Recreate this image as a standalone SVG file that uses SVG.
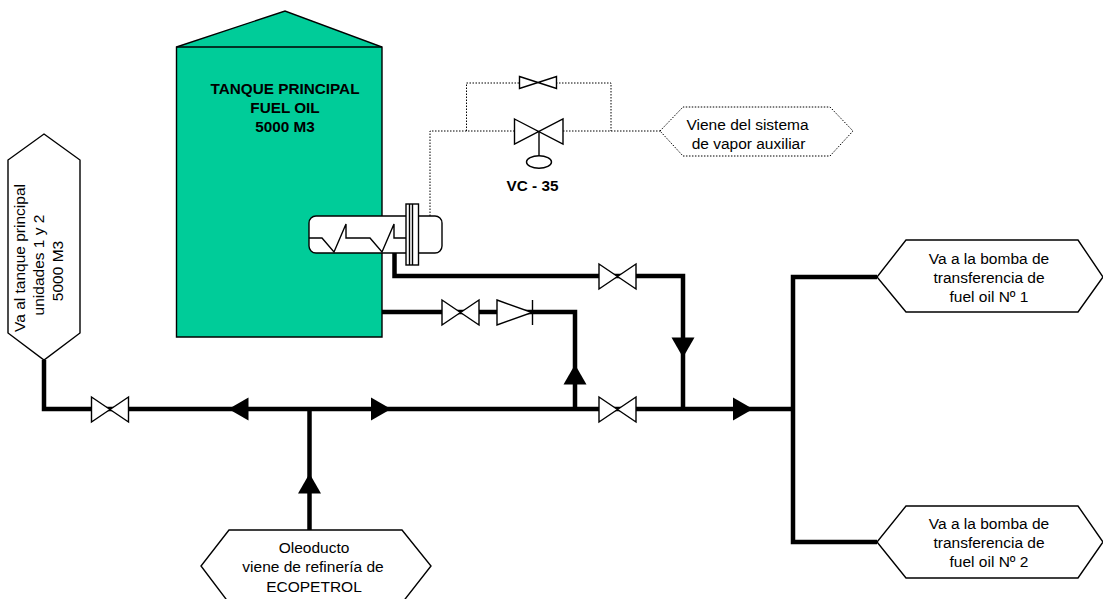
<svg xmlns="http://www.w3.org/2000/svg" width="1103" height="599" viewBox="0 0 1103 599">
<style>
.pipe{fill:none;stroke:#000;stroke-width:4.5;stroke-linejoin:miter}
.dot{fill:none;stroke:#000;stroke-width:1;stroke-dasharray:1.5 1.5}
.line{fill:#fff;stroke:#000;stroke-width:1.4}
.thin{fill:none;stroke:#000;stroke-width:1.4;stroke-linejoin:miter}
.arrow{fill:#000;stroke:none}
text{font-family:"Liberation Sans",Arial,sans-serif;font-size:15.5px;fill:#000;text-anchor:middle}
.bold{font-weight:bold;font-size:15.3px}
</style>
<defs>
<path id="valve" d="M-18.500 -12.500L18.500 12.500V-12.500L-18.500 12.500Z" class="line"/>
<path id="arrowR" d="M-10 -11.500L10 0L-10 11.500Z" class="arrow"/>
</defs>
<g id="tank">
<path d="M176.500 47L285 11L382 47V337H176.500Z" fill="#00CC99" stroke="#000" stroke-width="1.400"/>
<path d="M176.500 47H382" fill="none" stroke="#000" stroke-width="1.400"/>
<text class="bold" x="285" y="93.500">TANQUE PRINCIPAL</text>
<text class="bold" x="285" y="112.500">FUEL OIL</text>
<text class="bold" x="285" y="132">5000 M3</text>
</g>
<g id="connectors">
<path class="pipe" d="M44 360V409H793"/>
<path class="pipe" d="M877 277H793V542H877"/>
<path class="pipe" d="M309.500 530V409"/>
<path class="pipe" d="M382 312H575V409"/>
<path class="pipe" d="M394.500 253V276H683V409"/>
<path class="dot" d="M430 216V131H514M466.500 131V83H519M556 83H611V131M563 131H660"/>
<use href="#arrowR" transform="translate(238.500 409) rotate(180)"/>
<use href="#arrowR" transform="translate(381 409)"/>
<use href="#arrowR" transform="translate(309.500 483.500) rotate(-90)"/>
<use href="#arrowR" transform="translate(575 374.500) rotate(-90)"/>
<use href="#arrowR" transform="translate(683 347.500) rotate(90)"/>
<use href="#arrowR" transform="translate(743 409)"/>
</g>
<g id="heater">
<rect x="309" y="216" width="133" height="37" rx="7" ry="7" fill="#fff" stroke="#000" stroke-width="1.400"/>
<path class="thin" d="M309 238H322L334 252L346 224V238H370L382 252L394 224V238H406"/>
<rect x="406" y="204" width="12.500" height="61" class="line"/>
<path class="thin" d="M409.500 204V265M412.500 204V265" stroke-width="1"/>
</g>
<g id="valve-left"><use href="#valve" transform="translate(110 409.500)"/></g>
<g id="valve-main"><use href="#valve" transform="translate(617.500 409.500)"/></g>
<g id="valve-upper"><use href="#valve" transform="translate(617.500 276.500)"/></g>
<g id="valve-tank"><use href="#valve" transform="translate(460.500 312.500)"/></g>
<g id="check-valve">
<path d="M497 300L532 312.500L497 325Z" class="line"/>
<path d="M532.500 300V325" class="thin"/>
</g>
<g id="valve-bypass">
<path d="M519.500 76.500L556.500 88.500V76.500L519.500 88.500Z" class="line"/>
</g>
<g id="valve-vc35">
<path d="M514.500 119L563 144V119L514.500 144Z" class="line"/>
<path d="M539 131.500V156" class="thin"/>
<ellipse cx="539" cy="162" rx="12.500" ry="6.200" class="line"/>
<text class="bold" x="532.500" y="191">VC - 35</text>
</g>
<g id="source-vapor">
<path class="dot" d="M660 131L683 107H830L853 131L830 156H683Z"/>
<text x="747.500" y="130">Viene del sistema</text>
<text x="748.500" y="149">de vapor auxiliar</text>
</g>
<g id="dest-tank">
<path class="line" d="M44 134L80 160V333L44 360L8 333V160Z"/>
<text transform="translate(25 258) rotate(-90)">Va al tanque principal</text>
<text transform="translate(44 265) rotate(-90)">unidades 1 y 2</text>
<text transform="translate(63 271) rotate(-90)">5000 M3</text>
</g>
<g id="source-oleoducto">
<path class="line" d="M229 530H402L431 566L402 603H229L201 566Z"/>
<text x="314" y="553">Oleoducto</text>
<text x="313" y="572">viene de refinería de</text>
<text x="314" y="591.500">ECOPETROL</text>
</g>
<g id="dest-pump-1">
<path class="line" d="M906 240H1078L1103 277L1078 312H906L877 277Z"/>
<text x="989" y="263.500">Va a la bomba de</text>
<text x="989" y="283">transferencia de</text>
<text x="989" y="302">fuel oil Nº 1</text>
</g>
<g id="dest-pump-2">
<path class="line" d="M906 506H1078L1103 542L1078 578H906L877 542Z"/>
<text x="989" y="528.500">Va a la bomba de</text>
<text x="989" y="548">transferencia de</text>
<text x="989" y="567">fuel oil Nº 2</text>
</g>
</svg>
